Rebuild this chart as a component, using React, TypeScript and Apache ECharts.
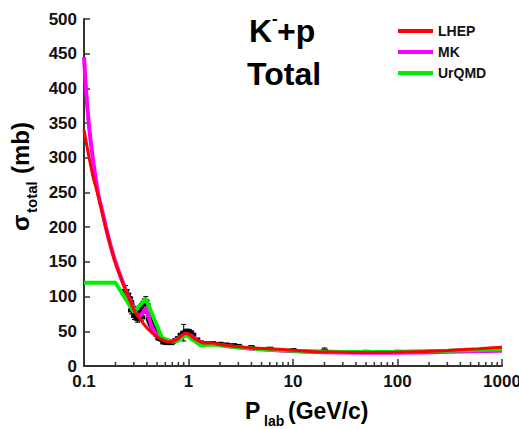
import React, { useEffect, useRef } from "react";
import * as echarts from "echarts";

// ---- Data ----
const X_TICK_LABELS = ["0.1", "1", "10", "100", "1000"];
const X_MINOR_TICKS = [
  0.2, 0.3, 0.4, 0.5, 0.6, 0.7, 0.8, 0.9,
  2, 3, 4, 5, 6, 7, 8, 9,
  20, 30, 40, 50, 60, 70, 80, 90,
  200, 300, 400, 500, 600, 700, 800, 900,
];

const LHEP_P = [0.1, 0.112, 0.122, 0.134, 0.15, 0.17, 0.2, 0.25, 0.3, 0.35, 0.4, 0.5, 0.6, 0.65, 0.72, 0.8, 0.88, 0.94, 1.0, 1.1, 1.25, 1.4, 1.7, 2.0, 2.5, 4, 7.5, 15, 22, 40, 70, 150, 300, 600, 1000];
const LHEP_S = [340, 300, 273, 250, 220, 186, 148, 110, 81, 66, 55, 42, 36, 35, 36, 40, 45, 47, 46, 41, 36, 33, 33, 31, 29, 26, 24, 21, 20, 19.5, 19.5, 20.5, 22.5, 25, 27];

const MK_P = [0.1, 0.105, 0.111, 0.12, 0.136, 0.15, 0.17, 0.2, 0.25, 0.3, 0.34, 0.37, 0.39, 0.41, 0.45, 0.5, 0.6, 0.7, 0.8, 0.94, 1.05, 1.2, 1.4, 1.7, 2.5, 4, 7.5, 15, 30, 70, 150, 300, 600, 1000];
const MK_S = [445, 395, 350, 305, 250, 222, 187, 150, 110, 83, 72, 78, 84, 74, 55, 45, 37, 36, 40, 46, 44, 37, 33, 32, 28, 25, 22.5, 20.5, 19.5, 19, 19.5, 20.5, 21.5, 22];

const URQMD_P = [0.1, 0.2, 0.3, 0.39, 0.56, 0.7, 0.8, 0.94, 1.3, 1.7, 2.5, 5, 10, 30, 100, 300, 1000];
const URQMD_S = [120, 120, 78, 97, 40, 35, 37, 45, 30, 31, 28, 24, 22, 20, 20.5, 22, 24];

const EXP_P = [0.25, 0.26, 0.27, 0.28, 0.285, 0.29, 0.3, 0.305, 0.31, 0.32, 0.325, 0.33, 0.34, 0.35, 0.355, 0.36, 0.37, 0.38, 0.39, 0.4, 0.41, 0.42, 0.43, 0.44, 0.46, 0.48, 0.5, 0.52, 0.53, 0.56, 0.58, 0.6, 0.62, 0.65, 0.68, 0.7, 0.75, 0.8, 0.85, 0.9, 0.95, 1.0, 1.05, 1.1, 1.2, 1.3, 1.5, 1.7, 2.0, 2.3, 2.7, 3.0, 4, 6, 10, 20, 50, 100, 200];
const EXP_S = [108, 103, 98, 92, 80, 84, 80, 72, 74, 72, 68, 70, 74, 78, 70, 84, 88, 91, 93, 88, 78, 68, 64, 60, 54, 49, 45, 40, 41, 38, 34, 36, 33, 35, 33, 35, 37, 40, 45, 48, 50, 50, 48, 45, 38, 34, 33, 33, 32, 31, 30, 29, 27, 25, 23, 22, 20.5, 20.5, 21];
const EXP_E = [8, 7, 6, 6, 5, 5, 5, 5, 5, 5, 5, 5, 5, 5, 5, 5, 5, 6, 7, 6, 5, 4, 4, 4, 3, 3, 3, 3, 2, 2, 2, 2, 2, 2, 2, 2, 2, 2, 2, 12, 3, 3, 3, 2, 2, 2, 2, 1.5, 1.5, 1.5, 1.5, 1.5, 2, 1.5, 1.5, 4, 1, 1, 1];

const FONT = "'Liberation Sans', Arial, Helvetica, sans-serif";
const INK = "#111";

const zip = (a: number[], b: number[]) => a.map((v, i) => [v, b[i]]);

export default function App() {
  const ref = useRef<HTMLDivElement>(null);

  useEffect(() => {
    if (!ref.current) return;
    const chart = echarts.init(ref.current, null, { renderer: "svg" });

    const option: any = {
      animation: false,
      backgroundColor: "#fff",
      grid: {
        left: 84,
        right: 17,
        top: 19,
        bottom: 63,
        containLabel: false,
        outerBoundsMode: "none",
      },
      legend: {
        data: ["LHEP", "MK", "UrQMD"],
        orient: "vertical",
        left: 393,
        top: 18,
        icon: "rect",
        itemWidth: 35,
        itemHeight: 4,
        itemGap: 5,
        textStyle: {
          fontFamily: FONT,
          fontWeight: "bold",
          fontSize: 14,
          lineHeight: 16,
          color: INK,
        },
      },
      xAxis: {
        type: "log",
        logBase: 10,
        min: 0.1,
        max: 1000,
        splitLine: { show: false },
        axisLine: { lineStyle: { color: "#333", width: 2 } },
        axisTick: { inside: true, length: 7, lineStyle: { color: "#333", width: 1.5 } },
        axisLabel: {
          margin: 7,
          fontFamily: FONT,
          fontWeight: "bold",
          fontSize: 17,
          color: INK,
          formatter: (v: number) => {
            const i = Math.round(Math.log10(v)) + 1;
            return X_TICK_LABELS[i] ?? "";
          },
        },
      },
      yAxis: {
        type: "value",
        min: 0,
        max: 500,
        interval: 50,
        splitLine: { show: false },
        axisLine: { show: true, lineStyle: { color: "#333", width: 2 } },
        axisTick: { show: true, inside: true, length: 6, lineStyle: { color: "#333", width: 1.5 } },
        axisLabel: {
          margin: 7,
          fontFamily: FONT,
          fontWeight: "bold",
          fontSize: 17,
          color: INK,
        },
      },
      graphic: [
        { type: "text", left: 249, top: 15, style: { text: "K", font: `bold 32px ${FONT}`, fill: "#000" } },
        { type: "text", left: 272, top: 10, style: { text: "-", font: `bold 17px ${FONT}`, fill: "#000" } },
        { type: "text", left: 277, top: 15, style: { text: "+p", font: `bold 32px ${FONT}`, fill: "#000" } },
        { type: "text", left: 247, top: 58, style: { text: "Total", font: `bold 32px ${FONT}`, fill: "#000" } },
        { type: "text", left: 245, top: 399, style: { text: "P", font: `bold 23px ${FONT}`, fill: "#000" } },
        { type: "text", left: 264, top: 414, style: { text: "lab", font: `bold 14px ${FONT}`, fill: "#000" } },
        { type: "text", left: 288, top: 399, style: { text: "(GeV/c)", font: `bold 23px ${FONT}`, fill: "#000" } },
        {
          type: "group",
          x: 20,
          y: 231,
          rotation: Math.PI / 2,
          children: [
            { type: "text", x: 0, y: 0, style: { text: "σ", font: `bold 24px ${FONT}`, fill: "#000", textAlign: "left", textVerticalAlign: "middle" } },
            { type: "text", x: 18, y: 11, style: { text: "total", font: `bold 15px ${FONT}`, fill: "#000", textAlign: "left", textVerticalAlign: "middle" } },
            { type: "text", x: 57, y: 0, style: { text: "(mb)", font: `bold 24px ${FONT}`, fill: "#000", textAlign: "left", textVerticalAlign: "middle" } },
          ],
        },
      ],
      series: [
        {
          name: "minorTicks",
          type: "custom",
          silent: true,
          z: 1,
          data: X_MINOR_TICKS.map((v) => [v, 0]),
          encode: { x: 0, y: 1 },
          renderItem: (params: any, api: any) => {
            const p = api.coord([api.value(0), 0]);
            return {
              type: "line",
              shape: { x1: p[0], y1: p[1], x2: p[0], y2: p[1] - 4 },
              style: { stroke: "#333", lineWidth: 1.5 },
            };
          },
        },
        {
          name: "Data",
          type: "custom",
          z: 2,
          data: EXP_P.map((p, i) => [p, EXP_S[i], EXP_E[i]]),
          encode: { x: 0, y: 1 },
          renderItem: (params: any, api: any) => {
            const x = api.value(0);
            const y = api.value(1);
            const e = api.value(2);
            const c = api.coord([x, y]);
            const t = api.coord([x, y + e]);
            const b = api.coord([x, y - e]);
            const st = { stroke: "#000", lineWidth: 1 };
            return {
              type: "group",
              children: [
                { type: "line", shape: { x1: c[0], y1: t[1], x2: c[0], y2: b[1] }, style: st },
                { type: "line", shape: { x1: c[0] - 2.5, y1: t[1], x2: c[0] + 2.5, y2: t[1] }, style: st },
                { type: "line", shape: { x1: c[0] - 2.5, y1: b[1], x2: c[0] + 2.5, y2: b[1] }, style: st },
                { type: "line", shape: { x1: c[0] - 3.5, y1: c[1], x2: c[0] + 3.5, y2: c[1] }, style: { stroke: "#000", lineWidth: 4 } },
              ],
            };
          },
        },
        {
          name: "MK",
          type: "line",
          z: 3,
          data: zip(MK_P, MK_S),
          showSymbol: false,
          smooth: 0.3,
          color: "#ff00ff",
          lineStyle: { color: "#ff00ff", width: 4 },
        },
        {
          name: "UrQMD",
          type: "line",
          z: 4,
          data: zip(URQMD_P, URQMD_S),
          showSymbol: false,
          smooth: false,
          color: "#00ee00",
          lineStyle: { color: "#00ee00", width: 4 },
        },
        {
          name: "LHEP",
          type: "line",
          z: 5,
          data: zip(LHEP_P, LHEP_S),
          showSymbol: false,
          smooth: 0.3,
          color: "#ff0000",
          lineStyle: { color: "#ff0000", width: 3 },
        },
      ],
    };

    chart.setOption(option);
    return () => chart.dispose();
  }, []);

  return (
    <div
      ref={ref}
      style={{ position: "fixed", left: 0, top: 0, width: 519, height: 429, background: "#fff" }}
    />
  );
}
